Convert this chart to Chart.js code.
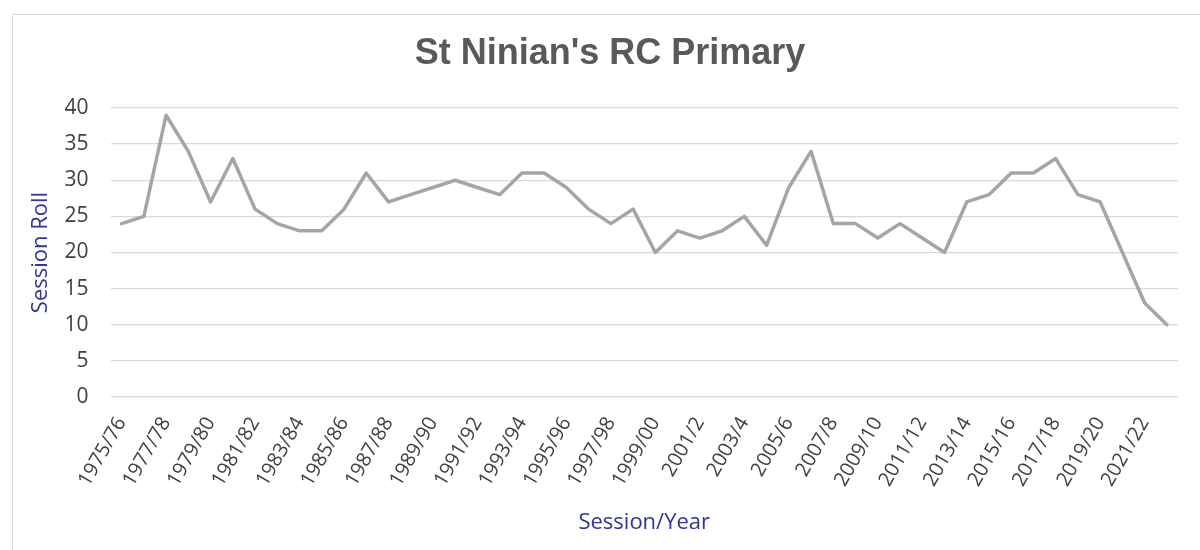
<!DOCTYPE html>
<html>
<head>
<meta charset="utf-8">
<script src="https://cdn.jsdelivr.net/npm/chart.js@4/dist/chart.umd.min.js"></script>
<style>
  html, body { margin: 0; padding: 0; background: #fff; }
  #wrap { position: relative; width: 1200px; height: 550px; overflow: hidden; }
  #frame { position: absolute; left: 12px; top: 14px; width: 1200px; height: 600px; border: 1px solid #d9d9d9; box-sizing: border-box; }
  canvas { position: absolute; left: 0; top: 0; }
</style>
</head>
<body>
<div id="wrap">
  <div id="frame"></div>
  <canvas id="c" width="1200" height="550"></canvas>
</div>
<script>
const chartTitle = "St Ninian's RC Primary";
const xAxisTitle = "Session/Year";
const yAxisTitle = "Session Roll";

const sessions = [
  "1975/76","1976/77","1977/78","1978/79","1979/80","1980/81","1981/82","1982/83",
  "1983/84","1984/85","1985/86","1986/87","1987/88","1988/89","1989/90","1990/91",
  "1991/92","1992/93","1993/94","1994/95","1995/96","1996/97","1997/98","1998/99",
  "1999/00","2000/1","2001/2","2002/3","2003/4","2004/5","2005/6","2006/7",
  "2007/8","2008/9","2009/10","2010/11","2011/12","2012/13","2013/14","2014/15",
  "2015/16","2016/17","2017/18","2018/19","2019/20","2020/21","2021/22","2022/23"
];

const roll = [
  24, 25, 39, 34, 27, 33, 26, 24,
  23, 23, 26, 31, 27, 28, 29, 30,
  29, 28, 31, 31, 29, 26, 24, 26,
  20, 23, 22, 23, 25, 21, 29, 34,
  24, 24, 22, 24, 22, 20, 27, 28,
  31, 31, 33, 28, 27, 20, 13, 10
];

const yTicks = [0, 5, 10, 15, 20, 25, 30, 35, 40];

const titlePlugin = {
  id: 'offsetTitle',
  afterDraw(chart) {
    const ctx = chart.ctx;
    ctx.save();
    ctx.fillStyle = '#595959';
    ctx.font = 'bold 36px "Liberation Sans", Arial, sans-serif';
    ctx.textAlign = 'center';
    ctx.textBaseline = 'alphabetic';
    ctx.fillText(chartTitle, 610, 64);
    ctx.restore();
  }
};

new Chart(document.getElementById('c'), {
  type: 'line',
  data: {
    labels: sessions,
    datasets: [{
      data: roll,
      borderColor: '#a5a5a5',
      borderWidth: 3.5,
      borderJoinStyle: 'round',
      borderCapStyle: 'round',
      pointRadius: 0,
      tension: 0,
      fill: false
    }]
  },
  plugins: [titlePlugin],
  options: {
    responsive: false,
    animation: false,
    layout: { padding: { left: 0, right: 22, top: 108, bottom: 0 } },
    plugins: {
      legend: { display: false },
      tooltip: { enabled: false },
      title: { display: false }
    },
    scales: {
      x: {
        type: 'category',
        offset: true,
        grid: { display: false, drawTicks: false },
        border: { display: false },
        afterFit: (s) => { s.height = 153; s.paddingLeft = 0; s.paddingRight = 0; },
        ticks: {
          autoSkip: false,
          minRotation: 60,
          maxRotation: 60,
          padding: 16,
          color: '#404040',
          font: { family: 'Open Sans', size: 20 },
          callback: function (v, i) { return i % 2 === 0 ? sessions[i] : ''; }
        },
        title: {
          display: true,
          text: xAxisTitle,
          color: '#333399',
          font: { family: 'Open Sans', size: 22 },
          padding: { top: 0, bottom: 14 }
        }
      },
      y: {
        min: 0,
        max: 40,
        afterFit: (s) => { s.width = 110.5; },
        afterBuildTicks: (s) => { s.ticks = yTicks.map(v => ({ value: v })); },
        grid: { color: '#d9d9d9', lineWidth: 1.3, drawTicks: false },
        border: { display: false },
        ticks: {
          padding: 22,
          color: '#404040',
          font: { family: 'Open Sans', size: 21 }
        },
        title: {
          display: true,
          text: yAxisTitle,
          color: '#333399',
          font: { family: 'Open Sans', size: 22 },
          padding: { top: 28, bottom: 0 }
        }
      }
    }
  }
});
</script>
</body>
</html>
